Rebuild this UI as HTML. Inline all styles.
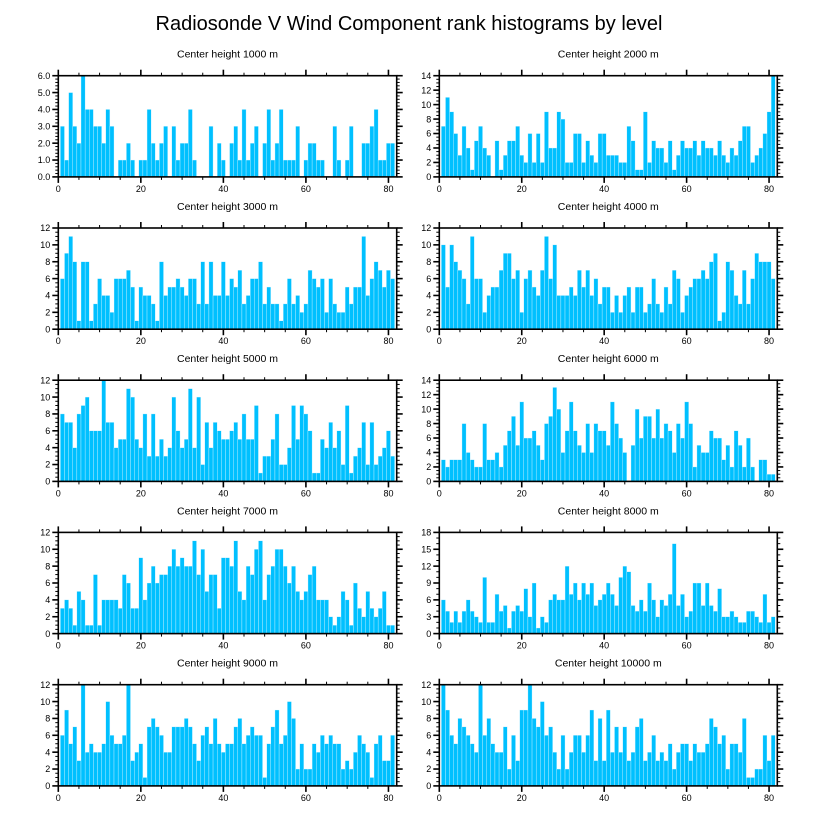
<!DOCTYPE html>
<html><head><meta charset="utf-8">
<style>
html,body{margin:0;padding:0;background:#fff;}
svg{display:block;font-family:"Liberation Sans",sans-serif;}
</style></head>
<body>
<svg id="chart" width="818" height="824" viewBox="0 0 818 824" xmlns="http://www.w3.org/2000/svg">
<text x="409" y="30" text-anchor="middle" font-size="20">Radiosonde V Wind Component rank histograms by level</text>
</svg>
<script>
const panelTitles = ["Center height 1000 m","Center height 2000 m","Center height 3000 m","Center height 4000 m","Center height 5000 m","Center height 6000 m","Center height 7000 m","Center height 8000 m","Center height 9000 m","Center height 10000 m"];
const xTicks = [0,20,40,60,80];
const yMaxes = [6,14,12,12,12,14,12,18,12,12];
const yMajorSteps = [1,2,2,2,2,2,2,3,2,2];
const h1000 = [3,1,5,3,2,6,4,4,3,3,2,4,3,0,1,1,2,1,0,1,1,4,2,1,2,3,0,3,1,2,2,4,1,0,0,0,3,0,2,1,0,2,3,1,4,1,2,3,0,2,4,1,2,4,1,1,1,3,0,1,2,2,1,1,0,0,3,1,0,1,3,0,0,2,2,3,4,1,1,2,2];
const h2000 = [7,11,9,6,3,7,4,1,5,7,4,3,0,5,1,3,5,5,7,3,2,6,2,6,2,9,4,4,9,8,2,2,6,6,2,5,3,2,6,6,3,3,3,2,2,7,5,1,1,9,2,5,4,4,2,5,1,3,5,4,4,5,3,5,4,4,3,5,3,2,4,3,5,7,7,2,3,4,6,9,14];
const h3000 = [6,9,11,8,1,8,8,1,3,6,4,4,2,6,6,6,7,5,1,5,4,4,3,1,8,4,5,5,6,5,4,6,6,3,8,3,8,4,4,8,4,6,5,7,3,4,6,6,8,3,5,3,3,1,3,6,3,4,2,3,7,6,5,6,2,6,3,2,2,5,3,5,5,11,4,6,8,7,5,7,6];
const h4000 = [10,5,10,8,7,6,3,11,6,6,2,4,5,5,7,9,9,6,7,2,6,7,5,4,7,11,6,10,4,4,4,5,4,7,5,7,4,6,3,5,5,2,4,2,4,5,2,5,5,2,3,6,3,2,5,3,7,6,2,4,5,6,6,7,6,8,9,1,2,8,7,4,3,7,3,6,9,8,8,8,6];
const h5000 = [8,7,7,4,8,9,10,6,6,6,12,7,7,4,5,5,11,10,5,4,8,3,8,3,5,3,4,10,6,4,5,11,4,10,2,7,4,7,6,5,5,6,7,5,8,5,5,9,1,3,3,5,8,2,2,4,9,5,9,8,6,1,1,5,4,7,4,6,2,9,1,3,4,7,2,7,2,3,4,6,3];
const h6000 = [3,2,3,3,3,8,4,3,2,2,8,3,3,4,2,5,7,9,5,11,6,6,7,5,3,8,9,13,10,4,7,11,7,5,4,8,4,8,7,7,5,11,8,6,4,0,5,10,6,9,9,6,10,6,8,7,4,8,6,11,8,2,5,4,4,7,6,6,3,5,2,7,5,2,6,2,0,3,3,1,1];
const h7000 = [3,4,3,1,5,4,1,1,7,1,4,4,4,4,3,7,6,3,3,9,4,6,8,6,7,7,8,10,8,9,8,8,11,7,10,5,7,7,3,9,9,8,11,5,4,8,7,10,11,4,7,8,10,10,8,6,8,5,4,5,7,8,4,4,4,2,1,2,5,4,1,6,3,2,5,3,2,3,5,1,1];
const h8000 = [6,4,2,4,2,4,6,4,3,2,10,2,2,7,4,5,1,4,5,4,8,3,9,1,3,2,6,7,6,6,12,7,9,6,9,7,9,5,6,7,9,7,5,10,12,11,5,4,6,4,9,6,3,6,5,7,16,5,7,3,4,9,9,5,9,5,4,8,3,3,4,3,2,2,4,4,3,2,7,2,3];
const h9000 = [6,9,5,7,3,12,4,5,4,4,5,10,6,5,5,6,12,3,4,5,1,7,8,7,6,4,4,7,7,7,8,7,5,3,6,7,5,8,5,4,5,5,7,8,5,6,7,6,6,1,5,7,9,5,6,10,8,2,5,2,2,5,4,6,5,6,5,5,2,3,2,4,6,5,4,1,5,6,3,3,6];
const h10000 = [12,9,6,5,8,7,6,5,4,12,6,8,5,4,4,7,2,6,3,9,9,12,8,7,10,6,7,4,2,6,2,4,6,6,4,6,9,3,8,3,9,4,7,4,7,3,4,7,8,3,4,6,3,4,3,5,2,4,5,5,3,5,4,4,5,8,7,5,6,2,5,5,4,8,1,1,2,2,6,3,6];
const series = [h1000,h2000,h3000,h4000,h5000,h6000,h7000,h8000,h9000,h10000];

const NS="http://www.w3.org/2000/svg";
const svg=document.getElementById('chart');
function mk(tag,attrs,parent){const e=document.createElementNS(NS,tag);for(const k in attrs)e.setAttribute(k,attrs[k]);(parent||svg).appendChild(e);return e;}

const colLeft=[58.3,439.3], plotW=[338.4,338.0];
const rowTop=[75.7,228,380.2,532.4,684.7], plotH=101.2;
const XMAX=82;

series.forEach((vals,p)=>{
  const col=p%2,row=Math.floor(p/2);
  const L=colLeft[col],W=plotW[col],T=rowTop[row],B=T+plotH;
  const ymax=yMaxes[p],step=yMajorSteps[p];
  const xs=v=>L+v/XMAX*W;
  const ys=v=>B-v/ymax*plotH;
  const g=mk('g',{});
  
  
  const t=mk('text',{x:L+W/2,y:T-18,'text-anchor':'middle','font-size':'10.5'},g);
  
  
  t.textContent=panelTitles[p];
  // bars
  vals.forEach((v,i)=>{
    const k=i+1;
    if(v<=0)return;
    const r=mk('rect',{x:xs(k-0.5),y:ys(v),width:xs(k+0.5)-xs(k-0.5),height:B-ys(v),fill:'#00C0FF',stroke:'#dff6ff','stroke-width':'0.35'},g);
    
    
  });
  // frame
  const f=mk('rect',{x:L,y:T,width:W,height:plotH,fill:'none',stroke:'#000','stroke-width':'1.6'},g);
  
  
  // x ticks
  for(let v=0;v<=XMAX;v+=5){
    const major=v%20===0, len=major?6:3;
    const x=xs(v);
    mk('line',{x1:x,x2:x,y1:B,y2:B+len,stroke:'#000','stroke-width':major?1.6:1},g);
    mk('line',{x1:x,x2:x,y1:T,y2:T-len,stroke:'#000','stroke-width':major?1.6:1},g);
  }
  xTicks.forEach(v=>{
    const lt=mk('text',{x:xs(v),y:B+15,'text-anchor':'middle','font-size':'9'},g);
    
    
    lt.textContent=v;
  });
  // y ticks
  const minorStep=step/(step===3?3:(step===1?5:4));
  for(let v=0;v<=ymax+1e-9;v+=minorStep){
    const vv=Math.round(v*100)/100;
    const major=Math.abs(vv/step-Math.round(vv/step))<1e-6;
    const y=ys(vv);
    if(major){
      mk('line',{x1:L-6,x2:L,y1:y,y2:y,stroke:'#000','stroke-width':1.6},g);
      mk('line',{x1:L+W,x2:L+W+6,y1:y,y2:y,stroke:'#000','stroke-width':1.6},g);
    }else{
      mk('line',{x1:L-3,x2:L,y1:y,y2:y,stroke:'#000','stroke-width':1},g);
      mk('line',{x1:L+W,x2:L+W+3,y1:y,y2:y,stroke:'#000','stroke-width':1},g);
    }
  }
  for(let v=0;v<=ymax;v+=step){
    const lt=mk('text',{x:L-8,y:ys(v)+3.2,'text-anchor':'end','font-size':'9'},g);
    
    
    lt.textContent=(step===1)?v.toFixed(1):String(v);
  }
});
</script>
</body></html>
